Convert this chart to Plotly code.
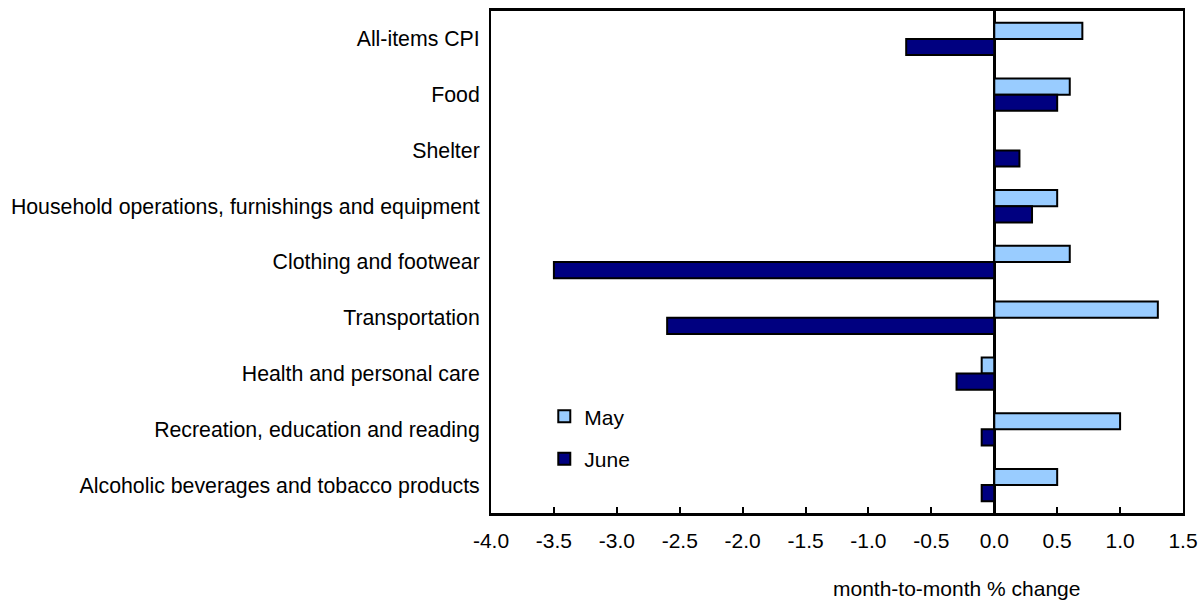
import plotly.graph_objects as go

categories = [
    "All-items CPI",
    "Food",
    "Shelter",
    "Household operations, furnishings and equipment",
    "Clothing and footwear",
    "Transportation",
    "Health and personal care",
    "Recreation, education and reading",
    "Alcoholic beverages and tobacco products",
]
may_values = [0.7, 0.6, 0.0, 0.5, 0.6, 1.3, -0.1, 1.0, 0.5]
june_values = [-0.7, 0.5, 0.2, 0.3, -3.5, -2.6, -0.3, -0.1, -0.1]
x_ticks = [-4.0, -3.5, -3.0, -2.5, -2.0, -1.5, -1.0, -0.5, 0.0, 0.5, 1.0, 1.5]
x_tick_labels = [f"{v:.1f}" for v in x_ticks]

FONT = "Liberation Sans, Arial, sans-serif"
FS = 21

fig = go.Figure()
fig.add_trace(go.Bar(
    y=categories, x=may_values, name="May", orientation="h",
    marker=dict(color="#99CCFF", line=dict(color="black", width=2)),
    legendgroup="a",
))
fig.add_trace(go.Bar(
    y=categories, x=june_values, name="June", orientation="h",
    marker=dict(color="#000080", line=dict(color="black", width=2)),
    legendgroup="b",
))

fig.update_layout(
    width=1201, height=602,
    margin=dict(l=491, r=18, t=11, b=89, autoexpand=False),
    paper_bgcolor="white", plot_bgcolor="white",
    barmode="group", bargap=0.42, bargroupgap=0,
    font=dict(family=FONT, size=FS, color="black"),
    showlegend=True,
    legend=dict(
        x=0.077, y=0.15, xanchor="left", yanchor="middle",
        bgcolor="rgba(0,0,0,0)", font=dict(size=FS),
        traceorder="grouped", tracegroupgap=12, itemwidth=30,
    ),
    annotations=[dict(
        text="month-to-month % change", xref="paper", yref="paper",
        x=0.673, y=-0.151, xanchor="center", yanchor="middle",
        showarrow=False, font=dict(size=FS, family=FONT),
    )],
)

fig.update_xaxes(
    range=[-4.0, 1.5], tickvals=x_ticks, ticktext=x_tick_labels,
    automargin=False,
    showgrid=False, zeroline=True, zerolinecolor="black", zerolinewidth=3,
    showline=True, linecolor="black", linewidth=3, mirror=True,
    ticks="inside", ticklen=6, tickwidth=2, tickcolor="black",
    tickfont=dict(size=FS), ticklabelstandoff=7,
)
fig.update_yaxes(
    autorange="reversed", automargin=False,
    showgrid=False, zeroline=False,
    showline=True, linecolor="black", linewidth=2, mirror=True,
    ticks="", tickfont=dict(size=21.3), ticklabelstandoff=5,
)

fig.write_html(
    "out.html",
    config={"displayModeBar": False},
    post_script="document.body.style.margin='0';document.body.style.overflow='hidden';",
)
